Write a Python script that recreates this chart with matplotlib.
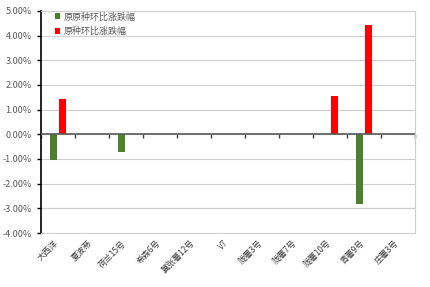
import matplotlib.pyplot as plt
import matplotlib.transforms as mtransforms
import numpy as np
from matplotlib.ticker import FuncFormatter

plt.rcParams['font.family'] = ['Noto Sans CJK SC', 'DejaVu Sans']

varieties = ['大西洋', '夏波蒂', '荷兰15号', '希森6号', '冀张薯12号', 'V7',
             '陇薯3号', '陇薯7号', '陇薯10号', '青薯9号', '庄薯3号']
# 原原种 / 原种 环比涨跌幅 (%)
yyz = [-1.05, 0, -0.70, 0, 0, 0, 0, 0, 0, -2.82, 0]
yz = [1.45, 0, 0, 0, 0, 0, 0, 0, 1.57, 4.43, 0]

fig = plt.figure(figsize=(4.3, 2.87), dpi=100)
ax = fig.add_axes([0.095, 0.188, 0.87, 0.774])

x = np.arange(len(varieties))
w = 0.21
ax.bar(x - 0.13, yyz, w, color='#4E7F2C', label='原原种环比涨跌幅', zorder=3)
ax.bar(x + 0.13, yz, w, color='#FF0000', label='原种环比涨跌幅', zorder=3)

ax.set_xlim(-0.5, len(varieties) - 0.5)
ax.set_ylim(-4, 5)
ax.set_yticks(np.arange(-4, 6, 1))
ax.yaxis.set_major_formatter(FuncFormatter(lambda v, p: f'{v:.2f}%'))
ax.grid(axis='y', color='#CFCFCF', linestyle='-', linewidth=0.8, zorder=0)
ax.axhline(-3, color='#D2C6DA', linestyle='-', linewidth=0.8, zorder=1)
ax.axhline(0, color='#5A5A5A', linewidth=1.2, zorder=4)

for s in ['top', 'right', 'bottom']:
    ax.spines[s].set_color('#CFCFCF')
    ax.spines[s].set_linewidth(0.8)
ax.spines['left'].set_color('black')
ax.spines['left'].set_linewidth(1.2)

ax.set_xticks(x)
ax.set_xticklabels(varieties, rotation=45, ha='right', rotation_mode='anchor',
                   fontsize=6, color='#404040')
ax.tick_params(axis='x', length=0, pad=4)
shift = mtransforms.ScaledTranslation(-4 / 100, 0, fig.dpi_scale_trans)
for lab in ax.get_xticklabels():
    lab.set_transform(lab.get_transform() + shift)
ax.tick_params(axis='y', labelsize=6.5, labelcolor='#595959', length=3, width=1, color='black')

# category boundary ticks on the zero line
sec = ax.secondary_xaxis(0, transform=ax.transData)
sec.set_xticks(np.arange(-0.5, len(varieties), 1))
sec.tick_params(length=3, width=1, color='#404040', labelbottom=False)
sec.spines['bottom'].set_visible(False)

ax.legend(loc='upper left', bbox_to_anchor=(0.015, 1.03), frameon=False, fontsize=6.5,
          handlelength=0.6, handleheight=0.6, handletextpad=0.4, labelspacing=0.6,
          labelcolor='#595959')

plt.savefig('out.png', dpi=100)
